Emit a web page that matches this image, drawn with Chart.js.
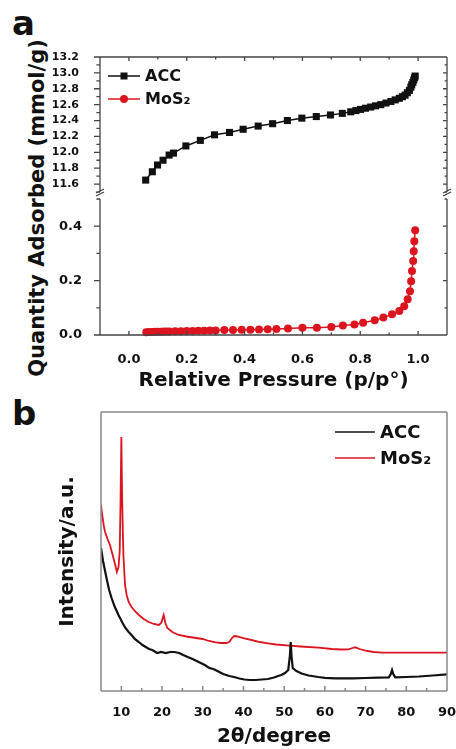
<!DOCTYPE html>
<html>
<head>
<meta charset="utf-8">
<script src="https://cdn.jsdelivr.net/npm/chart.js@4.4.1/dist/chart.umd.min.js"></script>
<style>
  body { margin: 0; background: #fff; width: 456px; height: 749px; position: relative; overflow: hidden;
         font-family: "DejaVu Sans", sans-serif; font-weight: bold; color: #111; }
  canvas, .txt { position: absolute; }
  #aTop { left: 0; top: 40px; }
  #aBot { left: 0; top: 195px; }
  #bChart { left: 0; top: 400px; }
  .panel { font-size: 34px; line-height: 34px; }
  .ytitle { font-size: 21px; white-space: nowrap; transform: translate(-50%, -50%) rotate(-90deg); }
</style>
</head>
<body>
<div class="txt panel" style="left:12px;top:6px">a</div>
<div class="txt panel" style="left:12px;top:396px">b</div>
<div class="txt ytitle" style="left:37px;top:208px">Quantity Adsorbed (mmol/g)</div>
<canvas id="aTop" width="456" height="160"></canvas>
<canvas id="aBot" width="456" height="205"></canvas>
<canvas id="bChart" width="456" height="349"></canvas>
<script>
// ---- data (a): N2 isotherms ----
const seriesNames = ['ACC', 'MoS₂'];

const accP = [0.058, 0.081, 0.099, 0.118, 0.139, 0.154, 0.197, 0.247, 0.296, 0.348, 0.395, 0.447, 0.497, 0.548,
  0.598, 0.648, 0.697, 0.738, 0.767, 0.785, 0.801, 0.818, 0.836, 0.853, 0.871, 0.889, 0.906, 0.921, 0.935,
  0.946, 0.955, 0.963, 0.970, 0.975, 0.978, 0.982, 0.985, 0.988, 0.990];
const accQ = [11.65, 11.755, 11.84, 11.90, 11.965, 11.99, 12.08, 12.15, 12.22, 12.25, 12.29, 12.33, 12.36, 12.40,
  12.43, 12.45, 12.47, 12.49, 12.51, 12.525, 12.54, 12.555, 12.57, 12.585, 12.60, 12.62, 12.64, 12.66, 12.68,
  12.70, 12.72, 12.75, 12.78, 12.82, 12.85, 12.88, 12.91, 12.94, 12.96];

const mosP = [0.06, 0.07, 0.08, 0.09, 0.10, 0.11, 0.12, 0.13, 0.14, 0.16, 0.18, 0.20, 0.22, 0.24, 0.26, 0.28,
  0.30, 0.33, 0.36, 0.39, 0.42, 0.45, 0.48, 0.51, 0.55, 0.60, 0.65, 0.70, 0.74, 0.78, 0.81, 0.85, 0.88, 0.91,
  0.935, 0.952, 0.964, 0.972, 0.976, 0.979, 0.983, 0.985, 0.987, 0.990];
const mosQ = [0.010, 0.011, 0.011, 0.012, 0.012, 0.012, 0.013, 0.013, 0.013, 0.014, 0.014, 0.015, 0.015, 0.016,
  0.016, 0.017, 0.017, 0.018, 0.018, 0.019, 0.019, 0.020, 0.021, 0.022, 0.024, 0.027, 0.027, 0.029, 0.035, 0.039,
  0.045, 0.054, 0.064, 0.076, 0.088, 0.106, 0.131, 0.161, 0.198, 0.235, 0.272, 0.308, 0.345, 0.385];

// ---- data (b): XRD patterns (intensity in arbitrary units) ----
const accTheta = [5.0, 5.5, 6.0, 6.5, 7.0, 7.6, 8.3, 9.3, 10.3, 11.0, 11.8, 12.5, 13.3, 14.3, 15.2, 16.0, 16.8,
  17.6, 18.8, 19.8, 20.9, 22.0, 23.0, 24.2, 25.2, 26.3, 27.5, 28.5, 29.5, 30.5, 31.6, 32.6, 33.6, 35.0, 36.5,
  37.7, 39.0, 40.2, 41.5, 43.0, 44.5, 46.0, 47.5, 48.5, 49.3, 50.2, 51.0, 51.4, 51.6, 51.8, 52.1, 53.0, 54.3,
  56.0, 58.4, 60.0, 62.5, 65.0, 67.0, 70.0, 73.0, 75.7, 76.2, 76.5, 76.8, 77.3, 80.0, 83.1, 86.5, 90.0];
const accInt = [143, 130, 120, 110, 101, 93, 85, 76, 68, 63, 59, 56, 52, 49, 46, 44, 42, 41, 38, 39, 38, 39, 39,
  38, 36, 34, 32, 30, 28, 26, 23, 22, 20, 17, 15, 14, 12.5, 11.5, 11, 11, 11.5, 12, 13.5, 15, 16, 18, 21, 35, 49,
  35, 23, 20, 17.5, 15.5, 14, 13.2, 12.7, 12.6, 12.7, 13, 13.3, 13.7, 17, 21, 17, 13.7, 14, 14.5, 15.5, 16.7];

const mosTheta = [5.0, 5.3, 5.7, 6.0, 6.6, 7.2, 7.8, 8.5, 8.9, 9.3, 9.6, 9.8, 10.0, 10.2, 10.5, 10.9, 11.3, 11.8,
  12.5, 13.3, 14.3, 15.5, 16.7, 18.0, 19.2, 19.8, 20.4, 20.8, 21.3, 22.5, 24.1, 26.0, 28.3, 30.0, 31.5, 33.2,
  34.5, 35.8, 36.5, 37.2, 37.7, 38.5, 40.2, 42.0, 44.0, 46.0, 48.0, 51.4, 54.0, 58.4, 61.7, 64.0, 65.8, 66.8,
  67.5, 68.5, 70.0, 72.0, 74.1, 78.0, 82.0, 86.0, 90.0];
const mosInt = [186, 176, 165, 159, 152, 146, 137, 126, 119, 124, 140, 190, 254, 190, 136, 106, 96, 89, 84, 80,
  76, 72, 69, 67, 66, 68, 76, 68, 63, 59, 56, 54.5, 53, 52, 50, 48.7, 48, 48, 49, 53, 55, 54.5, 52.7, 51, 49,
  47.7, 46.5, 45.3, 44.5, 43.3, 42, 41.5, 41.7, 43, 43.7, 42, 40.3, 39, 38.3, 38.3, 38.3, 38.3, 38.3];

const black = '#111111';
const red = '#dc1420';

Chart.defaults.font.family = '"DejaVu Sans", sans-serif';
Chart.defaults.font.weight = 'bold';
Chart.defaults.color = '#111';

const pts = (xs, ys) => xs.map((x, i) => ({ x: x, y: ys[i] }));
const evenTenth = v => {
  const k = Math.round(v * 10);
  return k % 2 === 0 && v > -0.001 ? v.toFixed(1) : '';
};
const fixW = w => s => { s.width = w; s.paddingTop = 0; s.paddingBottom = 0; };
const fixH = h => s => { s.height = h; s.paddingLeft = 0; s.paddingRight = 0; };

// frame lines + origin-like ticks (len > 0 points into the plot)
const frameTicks = {
  id: 'frameTicks',
  afterDatasetsDraw(chart, args, opts) {
    const { ctx, chartArea: a } = chart;
    ctx.save();
    ctx.strokeStyle = opts.color;
    ctx.lineWidth = opts.width;
    ctx.beginPath();
    (opts.sides || []).forEach(s => {
      if (s.line) {
        if (s.at === 'top') { ctx.moveTo(a.left, a.top); ctx.lineTo(a.right, a.top); }
        if (s.at === 'bottom') { ctx.moveTo(a.left, a.bottom); ctx.lineTo(a.right, a.bottom); }
        if (s.at === 'left') { ctx.moveTo(a.left, a.top); ctx.lineTo(a.left, a.bottom); }
        if (s.at === 'right') { ctx.moveTo(a.right, a.top); ctx.lineTo(a.right, a.bottom); }
      }
      if (!s.scale) return;
      const sc = chart.scales[s.scale];
      sc.ticks.forEach(t => {
        const p = sc.getPixelForValue(t.value);
        const l = t.label === '' ? s.len * 0.6 : s.len;
        if (s.at === 'top') { ctx.moveTo(p, a.top); ctx.lineTo(p, a.top + l); }
        if (s.at === 'bottom') { ctx.moveTo(p, a.bottom); ctx.lineTo(p, a.bottom - l); }
        if (s.at === 'left') { ctx.moveTo(a.left, p); ctx.lineTo(a.left + l, p); }
        if (s.at === 'right') { ctx.moveTo(a.right, p); ctx.lineTo(a.right - l, p); }
      });
    });
    (opts.breaks || []).forEach(b => {
      const x = b === 'left' ? a.left : a.right;
      ctx.moveTo(x - 4, a.bottom + 1); ctx.lineTo(x + 4, a.bottom - 3);
      ctx.moveTo(x - 4, a.bottom + 4); ctx.lineTo(x + 4, a.bottom);
    });
    ctx.stroke();
    ctx.restore();
  }
};

// legend drawn inside the plot
const inLegend = {
  id: 'inLegend',
  afterDraw(chart, args, opts) {
    if (!opts.items) return;
    const ctx = chart.ctx;
    ctx.save();
    ctx.font = opts.font;
    ctx.textBaseline = 'middle';
    opts.items.forEach(it => {
      ctx.strokeStyle = it.color;
      ctx.lineWidth = it.lineWidth;
      ctx.beginPath();
      ctx.moveTo(opts.x0, it.y);
      ctx.lineTo(opts.x1, it.y);
      ctx.stroke();
      const cx = (opts.x0 + opts.x1) / 2;
      ctx.fillStyle = it.color;
      if (it.marker === 'rect') ctx.fillRect(cx - 3.5, it.y - 3.5, 7, 7);
      if (it.marker === 'circle') { ctx.beginPath(); ctx.arc(cx, it.y, 4, 0, Math.PI * 2); ctx.fill(); }
      ctx.fillStyle = '#111';
      ctx.fillText(it.text, opts.tx, it.y + 1);
    });
    ctx.restore();
  }
};

const axisGrey = '#444';
const noGrid = { display: false };
const noBorder = { display: false };

// (a) upper part
new Chart(document.getElementById('aTop'), {
  type: 'line',
  data: {
    datasets: [{
      label: seriesNames[0], data: pts(accP, accQ), borderColor: black, backgroundColor: black,
      borderWidth: 1.5, pointStyle: 'rect', pointRadius: 5, pointBorderWidth: 0, clip: false
    }]
  },
  options: {
    responsive: false, animation: false,
    layout: { padding: { top: 17, right: 9, bottom: 8, left: 0 } },
    scales: {
      x: { type: 'linear', display: false, min: -0.1, max: 1.1, ticks: { stepSize: 0.1, autoSkip: false, callback: evenTenth } },
      y: {
        type: 'linear', min: 11.5, max: 13.2, grid: noGrid, border: noBorder, afterFit: fixW(100),
        ticks: { stepSize: 0.1, autoSkip: false, callback: evenTenth, padding: 13, font: { size: 11 } }
      }
    },
    plugins: {
      legend: { display: false }, tooltip: { enabled: false },
      frameTicks: {
        color: axisGrey, width: 1.3, breaks: ['left', 'right'],
        sides: [{ at: 'top', line: true, scale: 'x', len: 4 }, { at: 'left', line: true, scale: 'y', len: -6 },
                { at: 'right', line: true, scale: 'y', len: 4 }]
      },
      inLegend: {
        font: 'bold 16px "DejaVu Sans"', x0: 108, x1: 140, tx: 145,
        items: [{ text: seriesNames[0], color: black, lineWidth: 1.5, marker: 'rect', y: 36 },
                { text: seriesNames[1], color: red, lineWidth: 1.5, marker: 'circle', y: 59 }]
      }
    }
  },
  plugins: [frameTicks, inLegend]
});

// (a) lower part
new Chart(document.getElementById('aBot'), {
  type: 'line',
  data: {
    datasets: [{
      label: seriesNames[1], data: pts(mosP, mosQ), borderColor: red, backgroundColor: red,
      borderWidth: 1.5, pointStyle: 'circle', pointRadius: 4, pointBorderWidth: 0, clip: false
    }]
  },
  options: {
    responsive: false, animation: false,
    layout: { padding: { top: 2, right: 9, bottom: 0, left: 0 } },
    scales: {
      x: {
        type: 'linear', min: -0.1, max: 1.1, grid: noGrid, border: noBorder, afterFit: fixH(65),
        ticks: { stepSize: 0.1, autoSkip: false, maxRotation: 0, callback: evenTenth, padding: 9, font: { size: 13 } },
        title: { display: true, text: 'Relative Pressure (p/p°)', font: { size: 20 }, padding: { top: 0, bottom: 7 } }
      },
      y: {
        type: 'linear', min: 0, max: 0.5, grid: noGrid, border: noBorder, afterFit: fixW(100),
        ticks: { stepSize: 0.1, autoSkip: false, callback: evenTenth, padding: 10, font: { size: 13 } }
      }
    },
    plugins: {
      legend: { display: false }, tooltip: { enabled: false },
      frameTicks: {
        color: axisGrey, width: 1.3,
        sides: [{ at: 'bottom', line: true, scale: 'x', len: 4 }, { at: 'left', line: true, scale: 'y', len: -6 },
                { at: 'right', line: true, scale: 'y', len: 4 }]
      }
    }
  },
  plugins: [frameTicks]
});

// (b) XRD
new Chart(document.getElementById('bChart'), {
  type: 'line',
  data: {
    datasets: [
      { label: seriesNames[0], data: pts(accTheta, accInt), borderColor: black, borderWidth: 2.2, pointRadius: 0 },
      { label: seriesNames[1], data: pts(mosTheta, mosInt), borderColor: red, borderWidth: 1.8, pointRadius: 0 }
    ]
  },
  options: {
    responsive: false, animation: false,
    layout: { padding: { top: 12, right: 9, bottom: 0, left: 0 } },
    scales: {
      x: {
        type: 'linear', min: 5, max: 90, grid: noGrid, border: noBorder, afterFit: fixH(58),
        ticks: { stepSize: 5, autoSkip: false, maxRotation: 0, callback: v => (v % 10 === 0 ? v : ''), padding: 6, font: { size: 13 } },
        title: { display: true, text: '2θ/degree', font: { size: 20 }, padding: { top: 0, bottom: 0 } }
      },
      y: {
        type: 'linear', min: 0, max: 279, grid: noGrid, border: noBorder, afterFit: fixW(101),
        ticks: { display: false },
        title: { display: true, text: 'Intensity/a.u.', font: { size: 20 }, padding: { top: 56, bottom: 0 } }
      }
    },
    plugins: {
      legend: { display: false }, tooltip: { enabled: false },
      frameTicks: {
        color: '#888', width: 1.5,
        sides: [{ at: 'top', line: true }, { at: 'right', line: true }, { at: 'left', line: true },
                { at: 'bottom', line: true, scale: 'x', len: 5 }]
      },
      inLegend: {
        font: 'bold 18px "DejaVu Sans"', x0: 335, x1: 375, tx: 380,
        items: [{ text: seriesNames[0], color: black, lineWidth: 1.5, y: 32 },
                { text: seriesNames[1], color: red, lineWidth: 1.5, y: 58 }]
      }
    }
  },
  plugins: [frameTicks, inLegend]
});
</script>
</body>
</html>
